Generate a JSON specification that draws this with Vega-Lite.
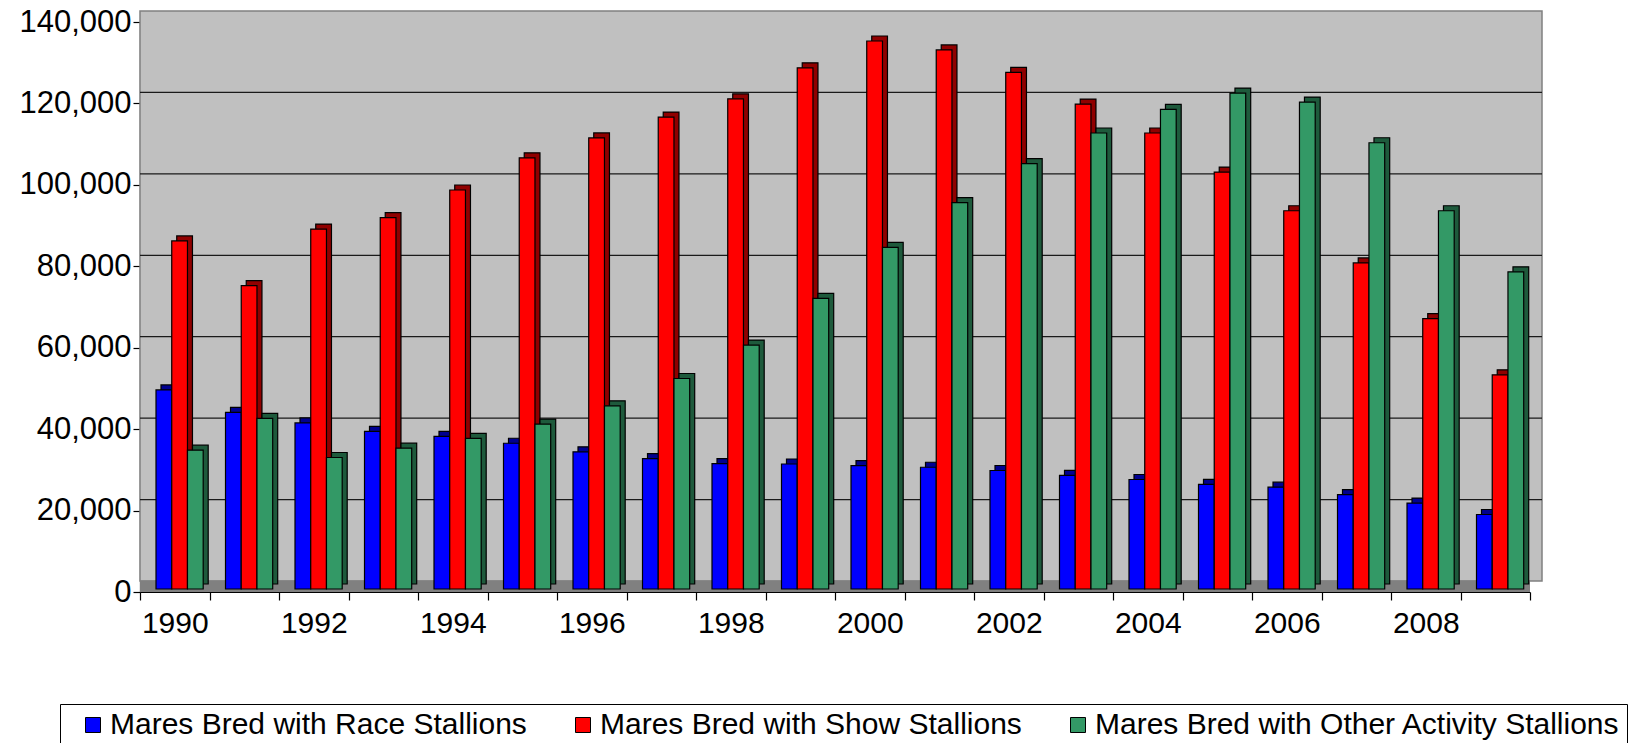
{
  "$schema": "https://vega.github.io/schema/vega-lite/v6.json",
  "width": 1390,
  "height": 570,
  "autosize": {"type": "none"},
  "padding": {"left": 140, "top": 22, "right": 109, "bottom": 151},
  "background": "white",
  "config": {
    "view": {"fill": "#c0c0c0", "stroke": null},
    "font": "Liberation Sans",
    "axis": {
      "domainColor": "#000000",
      "domainWidth": 1.2,
      "tickColor": "#000000",
      "tickWidth": 1.2,
      "labelColor": "#000000",
      "labelFont": "Liberation Sans",
      "labelFontSize": 30,
      "grid": false,
      "title": null
    },
    "axisY": {"tickCount": 8, "tickSize": 7, "labelPadding": 2, "labelFontSize": 31},
    "axisX": {"tickSize": 8, "labelPadding": 8, "labelAngle": 0}
  },
  "resolve": {"scale": {"xOffset": "independent", "color": "independent"}},
  "datasets": {
    "bars": [
      {"year": 1990, "series": "Mares Bred with Race Stallions", "value": 48900},
      {"year": 1991, "series": "Mares Bred with Race Stallions", "value": 43400},
      {"year": 1992, "series": "Mares Bred with Race Stallions", "value": 40800},
      {"year": 1993, "series": "Mares Bred with Race Stallions", "value": 38700},
      {"year": 1994, "series": "Mares Bred with Race Stallions", "value": 37500},
      {"year": 1995, "series": "Mares Bred with Race Stallions", "value": 35800},
      {"year": 1996, "series": "Mares Bred with Race Stallions", "value": 33700},
      {"year": 1997, "series": "Mares Bred with Race Stallions", "value": 32000},
      {"year": 1998, "series": "Mares Bred with Race Stallions", "value": 30800},
      {"year": 1999, "series": "Mares Bred with Race Stallions", "value": 30700},
      {"year": 2000, "series": "Mares Bred with Race Stallions", "value": 30300},
      {"year": 2001, "series": "Mares Bred with Race Stallions", "value": 29900},
      {"year": 2002, "series": "Mares Bred with Race Stallions", "value": 29100},
      {"year": 2003, "series": "Mares Bred with Race Stallions", "value": 27900},
      {"year": 2004, "series": "Mares Bred with Race Stallions", "value": 26900},
      {"year": 2005, "series": "Mares Bred with Race Stallions", "value": 25700},
      {"year": 2006, "series": "Mares Bred with Race Stallions", "value": 25000},
      {"year": 2007, "series": "Mares Bred with Race Stallions", "value": 23200},
      {"year": 2008, "series": "Mares Bred with Race Stallions", "value": 21100},
      {"year": 2009, "series": "Mares Bred with Race Stallions", "value": 18300},
      {"year": 1990, "series": "Mares Bred with Show Stallions", "value": 85500},
      {"year": 1991, "series": "Mares Bred with Show Stallions", "value": 74500},
      {"year": 1992, "series": "Mares Bred with Show Stallions", "value": 88400},
      {"year": 1993, "series": "Mares Bred with Show Stallions", "value": 91200},
      {"year": 1994, "series": "Mares Bred with Show Stallions", "value": 98000},
      {"year": 1995, "series": "Mares Bred with Show Stallions", "value": 105900},
      {"year": 1996, "series": "Mares Bred with Show Stallions", "value": 110800},
      {"year": 1997, "series": "Mares Bred with Show Stallions", "value": 115900},
      {"year": 1998, "series": "Mares Bred with Show Stallions", "value": 120400},
      {"year": 1999, "series": "Mares Bred with Show Stallions", "value": 128000},
      {"year": 2000, "series": "Mares Bred with Show Stallions", "value": 134600},
      {"year": 2001, "series": "Mares Bred with Show Stallions", "value": 132400},
      {"year": 2002, "series": "Mares Bred with Show Stallions", "value": 126900},
      {"year": 2003, "series": "Mares Bred with Show Stallions", "value": 119100},
      {"year": 2004, "series": "Mares Bred with Show Stallions", "value": 112000},
      {"year": 2005, "series": "Mares Bred with Show Stallions", "value": 102400},
      {"year": 2006, "series": "Mares Bred with Show Stallions", "value": 92900},
      {"year": 2007, "series": "Mares Bred with Show Stallions", "value": 80100},
      {"year": 2008, "series": "Mares Bred with Show Stallions", "value": 66400},
      {"year": 2009, "series": "Mares Bred with Show Stallions", "value": 52600},
      {"year": 1990, "series": "Mares Bred with Other Activity Stallions", "value": 34100},
      {"year": 1991, "series": "Mares Bred with Other Activity Stallions", "value": 41900},
      {"year": 1992, "series": "Mares Bred with Other Activity Stallions", "value": 32300},
      {"year": 1993, "series": "Mares Bred with Other Activity Stallions", "value": 34600},
      {"year": 1994, "series": "Mares Bred with Other Activity Stallions", "value": 37000},
      {"year": 1995, "series": "Mares Bred with Other Activity Stallions", "value": 40500},
      {"year": 1996, "series": "Mares Bred with Other Activity Stallions", "value": 45000},
      {"year": 1997, "series": "Mares Bred with Other Activity Stallions", "value": 51700},
      {"year": 1998, "series": "Mares Bred with Other Activity Stallions", "value": 59900},
      {"year": 1999, "series": "Mares Bred with Other Activity Stallions", "value": 71400},
      {"year": 2000, "series": "Mares Bred with Other Activity Stallions", "value": 83900},
      {"year": 2001, "series": "Mares Bred with Other Activity Stallions", "value": 94900},
      {"year": 2002, "series": "Mares Bred with Other Activity Stallions", "value": 104500},
      {"year": 2003, "series": "Mares Bred with Other Activity Stallions", "value": 112000},
      {"year": 2004, "series": "Mares Bred with Other Activity Stallions", "value": 117800},
      {"year": 2005, "series": "Mares Bred with Other Activity Stallions", "value": 121800},
      {"year": 2006, "series": "Mares Bred with Other Activity Stallions", "value": 119600},
      {"year": 2007, "series": "Mares Bred with Other Activity Stallions", "value": 109600},
      {"year": 2008, "series": "Mares Bred with Other Activity Stallions", "value": 92900},
      {"year": 2009, "series": "Mares Bred with Other Activity Stallions", "value": 77900}
    ],
    "grid": [{"v": 20000}, {"v": 40000}, {"v": 60000}, {"v": 80000}, {"v": 100000}, {"v": 120000}],
    "wall": [{"lo": 0, "hi": 140000}],
    "floor": [{"lo": 0, "hi": 2800}]
  },
  "layer": [
    {
      "data": {"name": "wall"},
      "mark": {"type": "rect", "fill": "#c0c0c0", "stroke": "#808080", "strokeWidth": 1.5, "xOffset": 12, "x2Offset": 12, "yOffset": -11, "y2Offset": -11},
      "encoding": {
        "y": {"field": "lo", "type": "quantitative", "scale": {"domain": [0, 140000], "nice": false}, "title": null, "axis": {"format": ",d"}},
        "y2": {"field": "hi"}
      }
    },
    {
      "data": {"name": "floor"},
      "mark": {"type": "rect", "fill": "#808080"},
      "encoding": {
        "y": {"field": "lo", "type": "quantitative", "title": null, "axis": {"format": ",d"}},
        "y2": {"field": "hi"}
      }
    },
    {
      "data": {"name": "grid"},
      "mark": {"type": "rule", "color": "#1a1a1a", "strokeWidth": 1.2, "xOffset": 12, "x2Offset": 12, "yOffset": -11, "y2Offset": -11},
      "encoding": {
        "y": {"field": "v", "type": "quantitative", "title": null, "axis": {"format": ",d"}}
      }
    },
    {
      "data": {"name": "bars"},
      "mark": {"type": "bar", "stroke": "#000000", "strokeWidth": 1.2, "yOffset": -8, "y2Offset": -8},
      "encoding": {
        "x": {"field": "year", "type": "ordinal", "scale": {"paddingInner": 0, "paddingOuter": 0}, "axis": {"tickBand": "extent", "labelExpr": "datum.value % 2 == 0 ? datum.label : ''"}, "title": null},
        "xOffset": {"field": "series", "type": "nominal", "sort": ["Mares Bred with Race Stallions", "Mares Bred with Show Stallions", "Mares Bred with Other Activity Stallions"], "scale": {"range": [21, 68.2], "paddingInner": 0, "paddingOuter": 0}},
        "y": {"field": "value", "type": "quantitative", "title": null, "axis": {"format": ",d"}},
        "color": {"field": "series", "type": "nominal", "scale": {"domain": ["Mares Bred with Race Stallions", "Mares Bred with Show Stallions", "Mares Bred with Other Activity Stallions"], "range": ["#000090", "#900000", "#1e5a3c"]}, "legend": null}
      }
    },
    {
      "data": {"name": "bars"},
      "mark": {"type": "bar", "stroke": "#000000", "strokeWidth": 1.2, "yOffset": -3, "y2Offset": -3},
      "encoding": {
        "x": {"field": "year", "type": "ordinal", "scale": {"paddingInner": 0, "paddingOuter": 0}, "axis": {"tickBand": "extent", "labelExpr": "datum.value % 2 == 0 ? datum.label : ''"}, "title": null},
        "xOffset": {"field": "series", "type": "nominal", "sort": ["Mares Bred with Race Stallions", "Mares Bred with Show Stallions", "Mares Bred with Other Activity Stallions"], "scale": {"range": [16, 63.2], "paddingInner": 0, "paddingOuter": 0}},
        "y": {"field": "value", "type": "quantitative", "title": null, "axis": {"format": ",d"}},
        "color": {
          "field": "series", "type": "nominal",
          "scale": {"domain": ["Mares Bred with Race Stallions", "Mares Bred with Show Stallions", "Mares Bred with Other Activity Stallions"], "range": ["#0000ff", "#ff0000", "#339966"]},
          "legend": {
            "title": " ", "titleOrient": "left", "titleFontSize": 1, "titlePadding": 12,
            "orient": "none", "direction": "horizontal",
            "legendX": -80, "legendY": 682,
            "padding": 6, "strokeColor": "#000000", "fillColor": "#ffffff",
            "symbolType": "square", "symbolSize": 225, "symbolStrokeColor": "#000000", "symbolStrokeWidth": 1,
            "labelFont": "Liberation Sans", "labelFontSize": 30, "labelColor": "#000000", "labelLimit": 1000, "labelOffset": 2,
            "columnPadding": 41
          }
        }
      }
    }
  ]
}
